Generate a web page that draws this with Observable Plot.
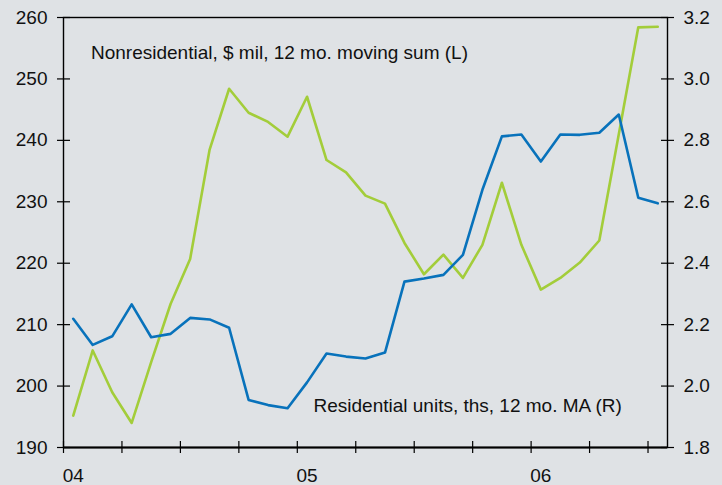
<!DOCTYPE html>
<html>
<head>
<meta charset="utf-8">
<script src="https://cdn.jsdelivr.net/npm/d3@7"></script>
<script src="https://cdn.jsdelivr.net/npm/@observablehq/plot@0.6"></script>
<style>
  html, body { margin: 0; padding: 0; background: #dfe2e5; }
  #chart svg { display: block; }
</style>
</head>
<body>
<div id="chart"></div>
<script>
// ---- data ----
const months = [
  "2004-01","2004-02","2004-03","2004-04","2004-05","2004-06","2004-07","2004-08","2004-09","2004-10","2004-11","2004-12",
  "2005-01","2005-02","2005-03","2005-04","2005-05","2005-06","2005-07","2005-08","2005-09","2005-10","2005-11","2005-12",
  "2006-01","2006-02","2006-03","2006-04","2006-05","2006-06","2006-07"
];
// Nonresidential, $ mil, 12 mo. moving sum (left axis)
const nonresidential = [
  195.2, 205.8, 199.0, 194.0, 203.9, 213.4, 220.7, 238.5, 248.4, 244.5, 243.0, 240.6,
  247.1, 236.8, 234.8, 231.0, 229.7, 223.3, 218.2, 221.4, 217.6, 223.0, 233.1, 223.0,
  215.7, 217.6, 220.1, 223.7, 241.0, 258.4, 258.5
];
// Residential units, ths, 12 mo. MA (right axis)
const residential = [
  2.219, 2.134, 2.162, 2.266, 2.159, 2.170, 2.222, 2.217, 2.190, 1.955, 1.938, 1.928,
  2.012, 2.106, 2.096, 2.090, 2.109, 2.340, 2.350, 2.362, 2.427, 2.639, 2.813, 2.819,
  2.731, 2.819, 2.818, 2.825, 2.884, 2.613, 2.595
];
const leftTicks = [190, 200, 210, 220, 230, 240, 250, 260];
const rightTicks = [1.8, 2.0, 2.2, 2.4, 2.6, 2.8, 3.0, 3.2];
const yearLabels = ["04", "05", "06"];
const yearStarts = ["2004-01", "2005-01", "2006-01"];

// ---- helpers ----
const monthIndex = s => (+s.slice(0, 4) - 2004) * 12 + (+s.slice(5, 7) - 1);
// right axis (1.8–3.2) mapped onto left axis (190–260)
const toLeft = v => leftTicks[0] + (v - rightTicks[0]) *
  (leftTicks[leftTicks.length - 1] - leftTicks[0]) / (rightTicks[rightTicks.length - 1] - rightTicks[0]);

const data = months.map((m, i) => ({
  x: monthIndex(m) + 0.5,
  nonres: nonresidential[i],
  res: toLeft(residential[i])
}));
const quarterTicks = months.filter((m, i) => i % 3 === 0).map(monthIndex);
const yearPos = yearStarts.map(m => monthIndex(m) + 0.5);

const bg = "#dfe2e5";
const green = "#a3cd3a";
const blue = "#0872bb";
const ink = "#111";
const fs = 19;

const chart = Plot.plot({
  width: 722,
  height: 485,
  marginLeft: 63,
  marginRight: 55,
  marginTop: 17,
  marginBottom: 38,
  style: { background: bg, fontFamily: "'Liberation Sans', Arial, sans-serif", fontSize: fs + "px", color: ink },
  x: { domain: [0, 31], axis: null },
  y: { domain: [190, 260], axis: null },
  marks: [
    Plot.frame({ stroke: "#000", strokeWidth: 1.4 }),
    Plot.ruleY([leftTicks[0]], { stroke: "#000", strokeWidth: 2 }),
    Plot.line(data, { x: "x", y: "nonres", stroke: green, strokeWidth: 2.6 }),
    Plot.line(data, { x: "x", y: "res", stroke: blue, strokeWidth: 2.6 }),
    // tick marks crossing the axes
    Plot.axisY({ anchor: "left", ticks: leftTicks, tickSize: 13, dx: 7, tickFormat: () => "", label: null, stroke: "#000", strokeWidth: 1.2 }),
    Plot.axisY({ anchor: "right", ticks: leftTicks, tickSize: 13, dx: -7, tickFormat: () => "", label: null, stroke: "#000", strokeWidth: 1.2 }),
    Plot.axisX({ anchor: "bottom", ticks: quarterTicks, tickSize: 12, dy: -6, tickFormat: () => "", label: null, stroke: "#000", strokeWidth: 1.2 }),
    // tick labels
    Plot.axisY({ anchor: "left", ticks: leftTicks, tickSize: 0, tickPadding: 16, tickFormat: d => String(d), label: null, fontSize: fs, fill: ink }),
    Plot.axisY({ anchor: "right", ticks: leftTicks, tickSize: 0, tickPadding: 16,
      tickFormat: d => rightTicks[leftTicks.indexOf(d)].toFixed(1), label: null, fontSize: fs, fill: ink }),
    Plot.axisX({ anchor: "bottom", ticks: yearPos, tickSize: 0, tickPadding: 21,
      tickFormat: d => yearLabels[yearPos.indexOf(d)], label: null, fontSize: fs, fill: ink }),
    // series labels
    Plot.text(["Nonresidential, $ mil, 12 mo. moving sum (L)"], {
      frameAnchor: "top-left", dx: 27.5, dy: 35.5, textAnchor: "start", lineAnchor: "middle", fontSize: fs, fill: ink
    }),
    Plot.text(["Residential units, ths, 12 mo. MA (R)"], {
      frameAnchor: "bottom-left", dx: 250, dy: -41.7, textAnchor: "start", lineAnchor: "middle", fontSize: fs, fill: ink
    })
  ]
});
document.getElementById("chart").append(chart);
</script>
</body>
</html>
